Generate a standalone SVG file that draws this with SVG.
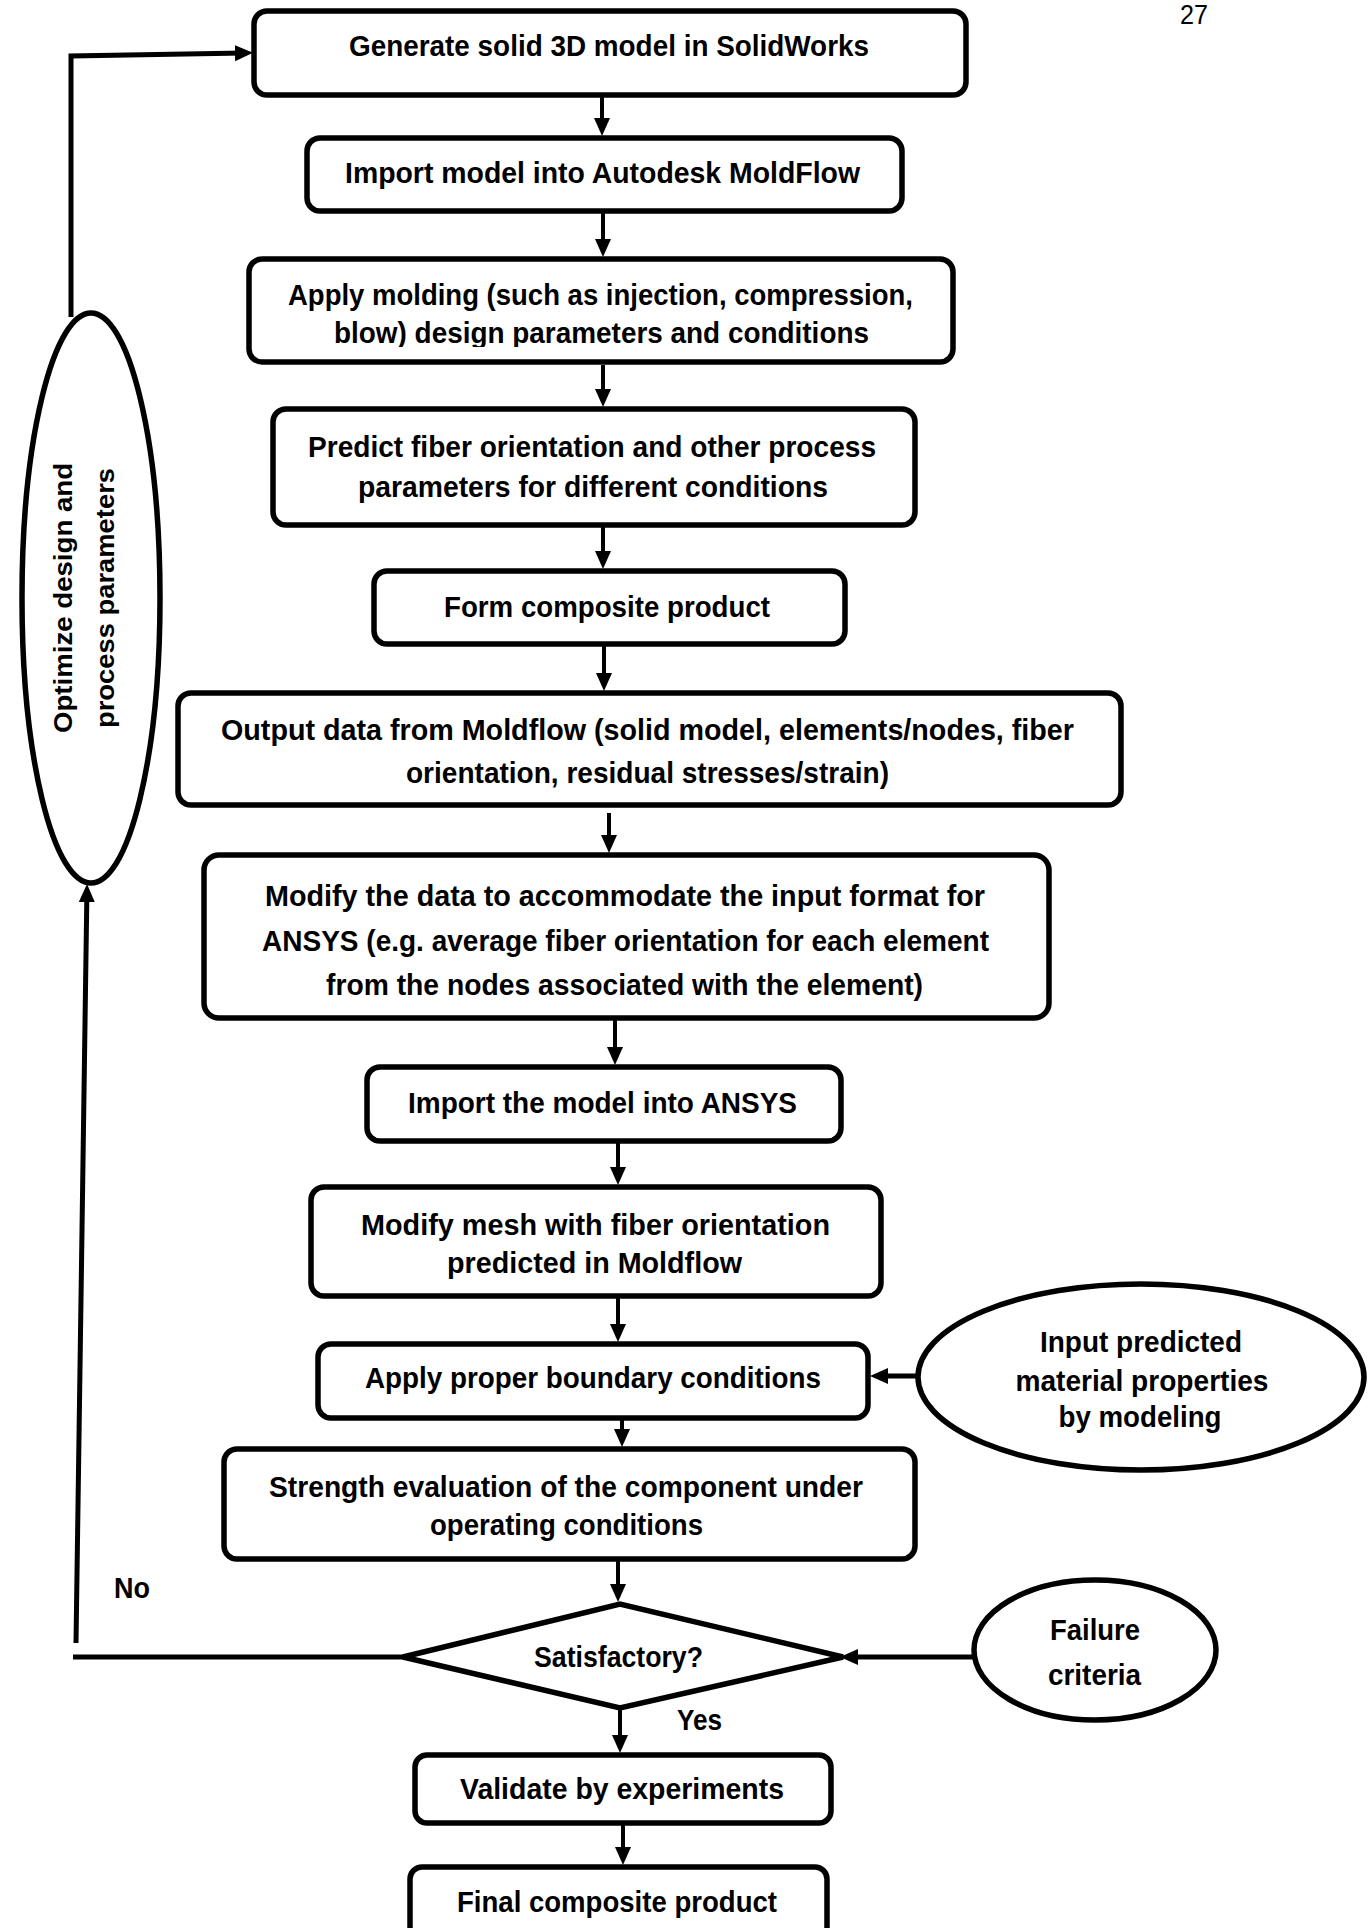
<svg xmlns="http://www.w3.org/2000/svg" width="1368" height="1928" viewBox="0 0 1368 1928">
  <style>
    .box { fill: #fff; stroke: #000; stroke-width: 5.5; }
    .shape { fill: #fff; stroke: #000; stroke-width: 5.5; }
    .t { font-family: "Liberation Sans", Arial, sans-serif; font-weight: bold; font-size: 29px; fill: #000; text-anchor: middle; }
    .rt { font-family: "Liberation Sans", Arial, sans-serif; font-weight: bold; font-size: 26px; fill: #000; text-anchor: middle; }
    .pg { font-family: "Liberation Sans", Arial, sans-serif; font-size: 27px; fill: #000; }
    .ln { fill: none; stroke: #000; stroke-width: 4; }
    .lnb { fill: none; stroke: #000; stroke-width: 5; }
  </style>
  <defs>
    <marker id="ah" markerUnits="userSpaceOnUse" markerWidth="18" markerHeight="18" viewBox="0 0 18 18" refX="9" refY="9" orient="auto">
      <path d="M0,1 L18,9 L0,17 z" fill="#000"/>
    </marker>
    <clipPath id="clip3"><rect x="0" y="0" width="1368" height="347"/></clipPath>
    <clipPath id="clipIn"><rect x="0" y="0" width="1368" height="1433"/></clipPath>
  </defs>
  <rect width="1368" height="1928" fill="#fff"/>

  <text class="pg" x="1180" y="24" textLength="28" lengthAdjust="spacingAndGlyphs">27</text>

  <g id="connectors">
    <line class="ln" x1="602" y1="97" x2="602" y2="127" marker-end="url(#ah)"/>
    <line class="ln" x1="603" y1="213" x2="603" y2="248" marker-end="url(#ah)"/>
    <line class="ln" x1="603" y1="365" x2="603" y2="398" marker-end="url(#ah)"/>
    <line class="ln" x1="603" y1="527" x2="603" y2="560" marker-end="url(#ah)"/>
    <line class="ln" x1="604" y1="646" x2="604" y2="682" marker-end="url(#ah)"/>
    <line class="ln" x1="609" y1="813" x2="609" y2="844" marker-end="url(#ah)"/>
    <line class="ln" x1="615" y1="1020" x2="615" y2="1056" marker-end="url(#ah)"/>
    <line class="ln" x1="618" y1="1143" x2="618" y2="1176" marker-end="url(#ah)"/>
    <line class="ln" x1="618" y1="1298" x2="618" y2="1333" marker-end="url(#ah)"/>
    <line class="ln" x1="622" y1="1405" x2="622" y2="1438" marker-end="url(#ah)"/>
    <line class="ln" x1="618" y1="1561" x2="618" y2="1593" marker-end="url(#ah)"/>
    <line class="ln" x1="620" y1="1708" x2="620" y2="1744" marker-end="url(#ah)"/>
    <line class="ln" x1="623" y1="1825" x2="623" y2="1856" marker-end="url(#ah)"/>
    <polyline class="lnb" points="71,317 71,56 244,53" marker-end="url(#ah)"/>
    <line class="lnb" x1="403" y1="1657" x2="73" y2="1657"/>
    <line class="lnb" x1="76" y1="1643" x2="86.9" y2="893" marker-end="url(#ah)"/>
    <line class="lnb" x1="918" y1="1376" x2="879" y2="1376" marker-end="url(#ah)"/>
    <line class="lnb" x1="974" y1="1657" x2="849" y2="1657" marker-end="url(#ah)"/>
  </g>

  <g id="n1">
    <rect class="box" x="254" y="11" width="712" height="84" rx="13"/>
    <text class="t" x="609" y="56" textLength="520" lengthAdjust="spacingAndGlyphs">Generate solid 3D model in SolidWorks</text>
  </g>
  <g id="n2">
    <rect class="box" x="307" y="138" width="595" height="73" rx="13"/>
    <text class="t" x="602.5" y="183" textLength="515" lengthAdjust="spacingAndGlyphs">Import model into Autodesk MoldFlow</text>
  </g>
  <g id="n3">
    <rect class="box" x="249" y="259" width="704" height="103" rx="13"/>
    <text class="t" x="600.5" y="305" textLength="625" lengthAdjust="spacingAndGlyphs">Apply molding (such as injection, compression,</text>
    <text class="t" x="601.5" y="343" textLength="535" lengthAdjust="spacingAndGlyphs" clip-path="url(#clip3)">blow) design parameters and conditions</text>
  </g>
  <g id="n4">
    <rect class="box" x="273" y="409" width="642" height="116" rx="13"/>
    <text class="t" x="592" y="457" textLength="568" lengthAdjust="spacingAndGlyphs">Predict fiber orientation and other process</text>
    <text class="t" x="593" y="497" textLength="470" lengthAdjust="spacingAndGlyphs">parameters for different conditions</text>
  </g>
  <g id="n5">
    <rect class="box" x="374" y="571" width="471" height="73" rx="13"/>
    <text class="t" x="607" y="617" textLength="326" lengthAdjust="spacingAndGlyphs">Form composite product</text>
  </g>
  <g id="n6">
    <rect class="box" x="178" y="693" width="943" height="112" rx="13"/>
    <text class="t" x="647.5" y="740" textLength="853" lengthAdjust="spacingAndGlyphs">Output data from Moldflow (solid model, elements/nodes, fiber</text>
    <text class="t" x="647.5" y="783" textLength="483" lengthAdjust="spacingAndGlyphs">orientation, residual stresses/strain)</text>
  </g>
  <g id="n7">
    <rect class="box" x="204" y="855" width="845" height="163" rx="15"/>
    <text class="t" x="625" y="906" textLength="720" lengthAdjust="spacingAndGlyphs">Modify the data to accommodate the input format for</text>
    <text class="t" x="625.5" y="951" textLength="727" lengthAdjust="spacingAndGlyphs">ANSYS (e.g. average fiber orientation for each element</text>
    <text class="t" x="624.5" y="995" textLength="597" lengthAdjust="spacingAndGlyphs">from the nodes associated with the element)</text>
  </g>
  <g id="n8">
    <rect class="box" x="367" y="1067" width="474" height="74" rx="13"/>
    <text class="t" x="602.5" y="1113" textLength="389" lengthAdjust="spacingAndGlyphs">Import the model into ANSYS</text>
  </g>
  <g id="n9">
    <rect class="box" x="311" y="1187" width="570" height="109" rx="13"/>
    <text class="t" x="595.5" y="1235" textLength="469" lengthAdjust="spacingAndGlyphs">Modify mesh with fiber orientation</text>
    <text class="t" x="594.5" y="1273" textLength="295" lengthAdjust="spacingAndGlyphs">predicted in Moldflow</text>
  </g>
  <g id="n10">
    <rect class="box" x="318" y="1344" width="550" height="74" rx="13"/>
    <text class="t" x="593" y="1388" textLength="456" lengthAdjust="spacingAndGlyphs">Apply proper boundary conditions</text>
  </g>
  <g id="n11">
    <rect class="box" x="224" y="1449" width="691" height="110" rx="13"/>
    <text class="t" x="566" y="1497" textLength="594" lengthAdjust="spacingAndGlyphs">Strength evaluation of the component under</text>
    <text class="t" x="566.5" y="1535" textLength="273" lengthAdjust="spacingAndGlyphs">operating conditions</text>
  </g>
  <g id="n12">
    <polygon class="shape" points="403,1657 620,1604 843,1657 620,1708"/>
    <text class="t" x="618.5" y="1667" textLength="169" lengthAdjust="spacingAndGlyphs">Satisfactory?</text>
  </g>
  <g id="n13">
    <rect class="box" x="415" y="1755" width="416" height="68" rx="12"/>
    <text class="t" x="622" y="1799" textLength="324" lengthAdjust="spacingAndGlyphs">Validate by experiments</text>
  </g>
  <g id="n14">
    <rect class="box" x="410" y="1867" width="417" height="72" rx="12"/>
    <text class="t" x="617" y="1912" textLength="320" lengthAdjust="spacingAndGlyphs">Final composite product</text>
  </g>
  <g id="n15">
    <ellipse class="shape" cx="1141" cy="1377" rx="223" ry="93"/>
    <text class="t" x="1141" y="1352" textLength="202" lengthAdjust="spacingAndGlyphs">Input predicted</text>
    <text class="t" x="1142" y="1391" textLength="253" lengthAdjust="spacingAndGlyphs">material properties</text>
    <text class="t" x="1140" y="1427" textLength="163" lengthAdjust="spacingAndGlyphs" clip-path="url(#clipIn)">by modeling</text>
  </g>
  <g id="n16">
    <ellipse class="shape" cx="1095" cy="1650" rx="121" ry="70"/>
    <text class="t" x="1095" y="1640" textLength="90" lengthAdjust="spacingAndGlyphs">Failure</text>
    <text class="t" x="1094.5" y="1685" textLength="93" lengthAdjust="spacingAndGlyphs">criteria</text>
  </g>
  <g id="n17">
    <ellipse class="shape" cx="91" cy="598" rx="69" ry="285"/>
    <text class="rt" transform="translate(72,598) rotate(-90)" textLength="270" lengthAdjust="spacingAndGlyphs">Optimize design and</text>
    <text class="rt" transform="translate(114,598) rotate(-90)" textLength="260" lengthAdjust="spacingAndGlyphs">process parameters</text>
  </g>
  <g id="labels">
    <text class="t" x="132" y="1598" textLength="36" lengthAdjust="spacingAndGlyphs">No</text>
    <text class="t" x="699.5" y="1730" textLength="45" lengthAdjust="spacingAndGlyphs">Yes</text>
  </g>
</svg>
